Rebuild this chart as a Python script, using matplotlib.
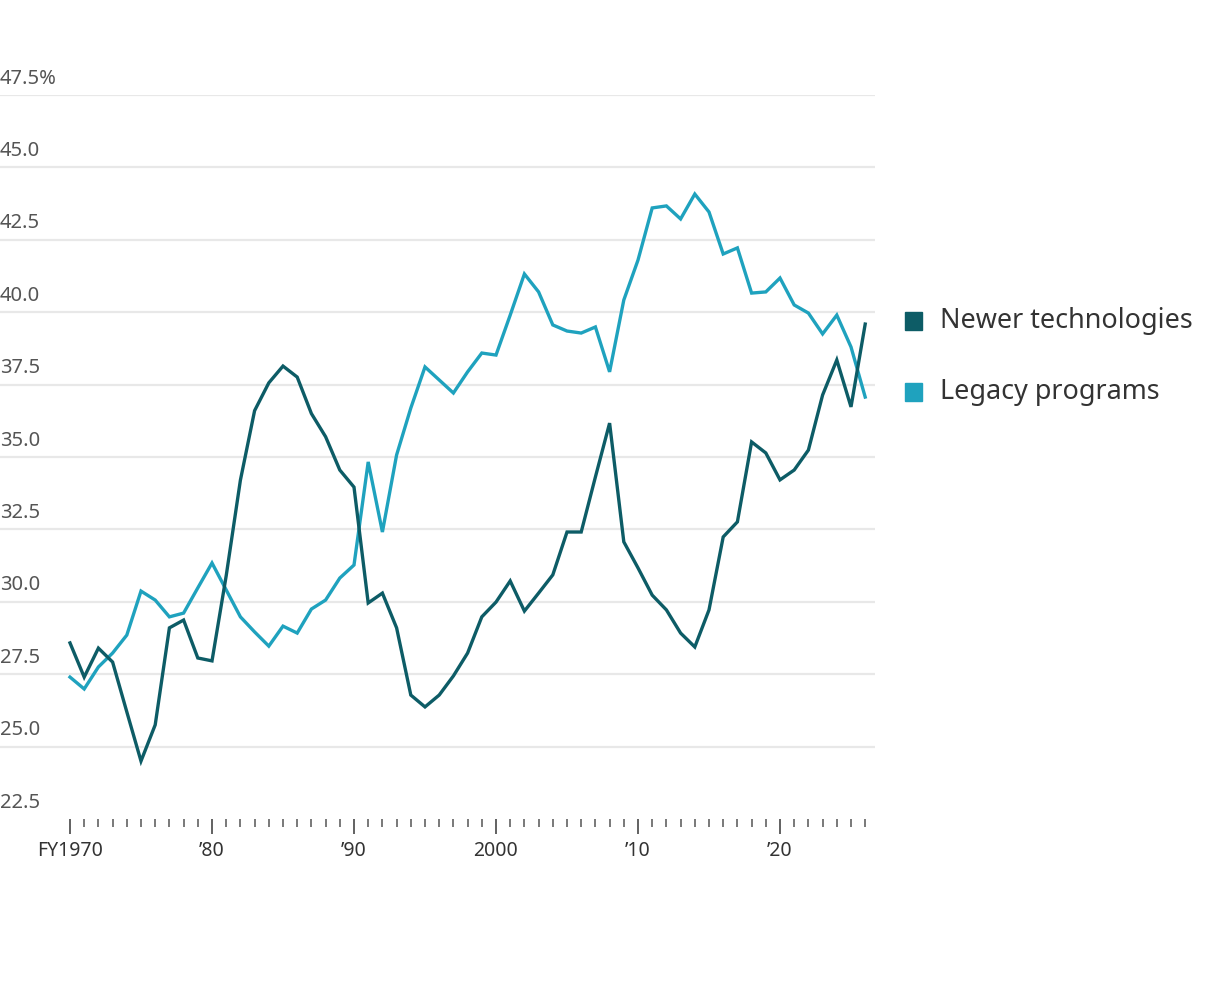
import matplotlib
matplotlib.use("Agg")
from matplotlib import pyplot as plt
from matplotlib.patches import Rectangle

# share of spending, %
years = list(range(1970, 2027))
newer = [28.58, 27.40, 28.40, 27.92, 26.2, 24.5, 25.75, 29.1, 29.37, 28.06,
         27.96, 30.9, 34.2, 36.6, 37.56, 38.14, 37.76, 36.5, 35.7, 34.55,
         33.96, 29.96, 30.3, 29.1, 26.78, 26.37, 26.78, 27.44, 28.23, 29.48,
         29.99, 30.72, 29.68, 30.3, 30.93, 32.41, 32.41, 34.31, 36.17, 32.07,
         31.17, 30.23, 29.72, 28.92, 28.44, 29.72, 32.24, 32.76, 35.52, 35.14,
         34.21, 34.55, 35.24, 37.14, 38.35, 36.73, 39.59]
legacy = [27.40, 26.99, 27.75, 28.23, 28.85, 30.37, 30.06, 29.48, 29.61, 30.48,
          31.34, 30.41, 29.48, 28.96, 28.47, 29.16, 28.92, 29.75, 30.06, 30.82,
          31.27, 34.83, 32.41, 35.07, 36.69, 38.11, 37.66, 37.21, 37.94, 38.59,
          38.52, 39.9, 41.32, 40.7, 39.56, 39.35, 39.28, 39.49, 37.94, 40.42,
          41.8, 43.6, 43.67, 43.22, 44.08, 43.46, 42.01, 42.22, 40.66, 40.7,
          41.18, 40.25, 39.97, 39.25, 39.9, 38.8, 37.07]

y_ticks = [22.5, 25.0, 27.5, 30.0, 32.5, 35.0, 37.5, 40.0, 42.5, 45.0, 47.5]
y_labels = ["22.5", "25.0", "27.5", "30.0", "32.5", "35.0", "37.5", "40.0", "42.5", "45.0", "47.5%"]
x_ticks = [1970, 1980, 1990, 2000, 2010, 2020]
x_labels = ["FY1970", "\u201980", "\u201990", "2000", "\u201910", "\u201920"]

c_newer = "#0d5c66"
c_legacy = "#1fa2be"

plt.rcParams['font.family'] = ['Noto Sans', 'DejaVu Sans']

W, H = 1225, 988
fig = plt.figure(figsize=(W / 100, H / 100), dpi=100)
ax = fig.add_axes([0, (H - 819) / H, 875 / W, (819 - 95) / H])

ax.set_xlim(1970 - 70 / 14.2, 1970 + 805 / 14.2)
ax.set_ylim(22.5, 47.5)

for v in y_ticks[1:]:
    ax.axhline(v, color="#e8e8e8", lw=1.6, zorder=0)

ax.plot(years, newer, color=c_newer, lw=2.4, zorder=3, solid_joinstyle='miter')
ax.plot(years, legacy, color=c_legacy, lw=2.4, zorder=2, solid_joinstyle='miter')

for v, lab in zip(y_ticks, y_labels):
    ax.text(0, v + 0.22, lab, transform=ax.get_yaxis_transform(), ha='left', va='bottom',
            fontsize=14.5, color="#555555")

for s in ax.spines.values():
    s.set_visible(False)
ax.set_yticks([])
ax.set_xticks(x_ticks)
ax.set_xticklabels(x_labels, fontsize=14, color="#333333")
ax.set_xticks(years, minor=True)
ax.tick_params(axis='x', which='major', length=11, width=1.3, color="#555555", pad=5)
ax.tick_params(axis='x', which='minor', length=6, width=1.1, color="#555555")

# legend drawn by hand
for i, (lab, c) in enumerate([("Newer technologies", c_newer), ("Legacy programs", c_legacy)]):
    yc = 321 + i * 71
    fig.patches.append(Rectangle((905 / W, 1 - (yc + 9) / H), 17 / W, 18 / H,
                                 transform=fig.transFigure, color=c))
    fig.text(940 / W, 1 - yc / H, lab, ha='left', va='center', fontsize=19.4, color="#333333")

fig.savefig("out.png", dpi=100, facecolor="white")
